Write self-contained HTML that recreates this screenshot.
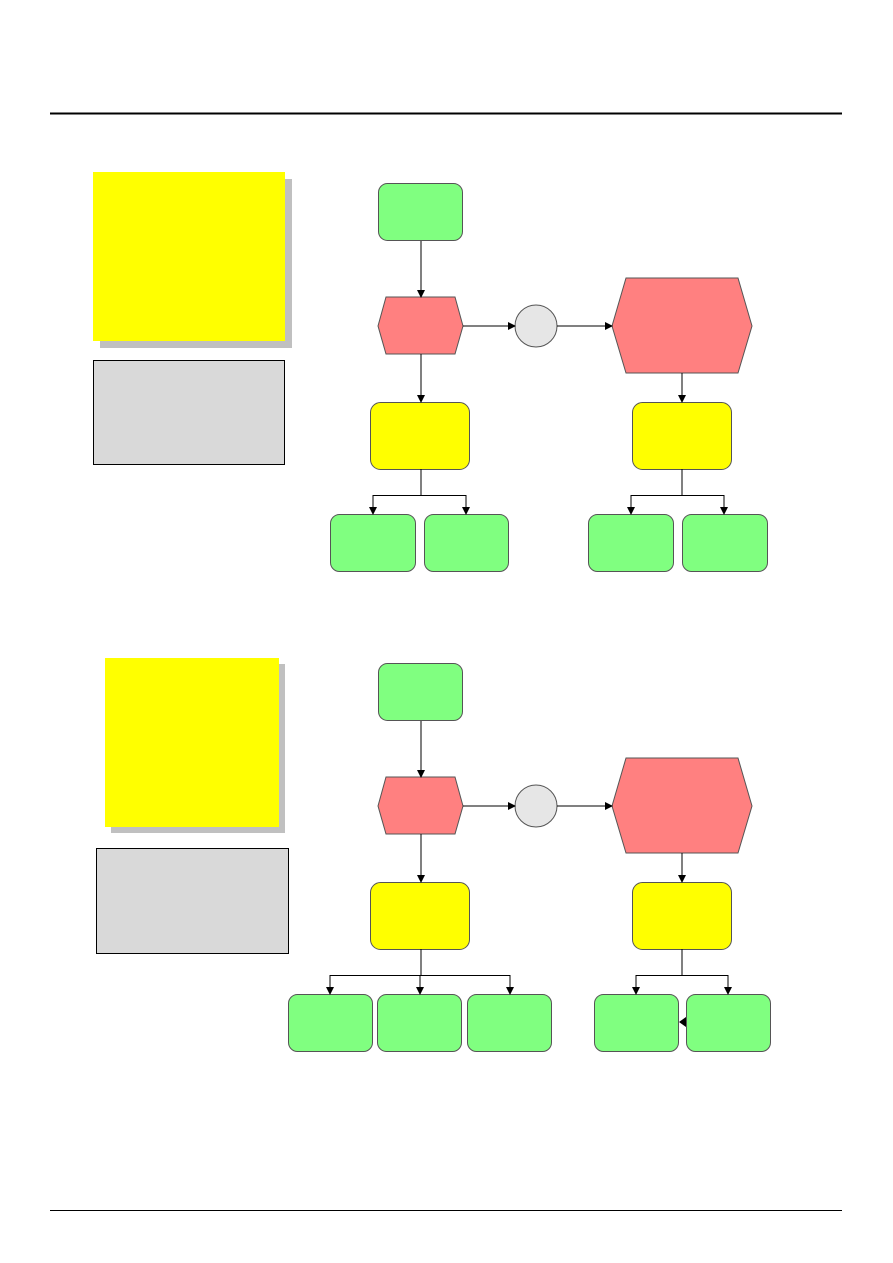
<!DOCTYPE html>
<html><head><meta charset="utf-8"><style>html,body{margin:0;padding:0;background:#fff}svg{display:block}</style></head>
<body>
<svg width="893" height="1263" viewBox="0 0 893 1263" xmlns="http://www.w3.org/2000/svg">
<defs>
<marker id="a" markerWidth="8" markerHeight="8" refX="7" refY="4" orient="auto" markerUnits="userSpaceOnUse"><path d="M0,0 L8,4 L0,8 Z" fill="#000"/></marker>
</defs>
<line x1="50" y1="113.5" x2="842" y2="113.5" stroke="#000" stroke-width="2"/>
<line x1="50" y1="1210.5" x2="842" y2="1210.5" stroke="#000" stroke-width="1"/>
<g stroke="#555" stroke-width="1">
<!-- Diagram 1 -->
<rect x="100" y="179" width="192" height="169" fill="#c0c0c0" stroke="none"/>
<rect x="93" y="172" width="192" height="169" fill="#ffff00" stroke="none"/>
<rect x="93.5" y="360.5" width="191" height="104" fill="#d9d9d9" stroke="#000"/>
<rect x="378.5" y="183.5" width="84" height="57" rx="9" fill="#80ff80"/>
<polygon points="378,326 386,297 455,297 463,326 455,354 386,354" fill="#ff8080"/>
<circle cx="536" cy="326" r="21" fill="#e6e6e6"/>
<polygon points="612,326 626,278 738,278 752,326 738,373 626,373" fill="#ff8080"/>
<rect x="370.5" y="402.5" width="99" height="67" rx="10" fill="#ffff00"/>
<rect x="632.5" y="402.5" width="99" height="67" rx="10" fill="#ffff00"/>
<rect x="330.5" y="514.5" width="85" height="57" rx="9" fill="#80ff80"/>
<rect x="424.5" y="514.5" width="84" height="57" rx="9" fill="#80ff80"/>
<rect x="588.5" y="514.5" width="85" height="57" rx="9" fill="#80ff80"/>
<rect x="682.5" y="514.5" width="85" height="57" rx="9" fill="#80ff80"/>
<!-- Diagram 2 -->
<rect x="111" y="664" width="174" height="169" fill="#c0c0c0" stroke="none"/>
<rect x="105" y="658" width="174" height="169" fill="#ffff00" stroke="none"/>
<rect x="96.5" y="848.5" width="192" height="105" fill="#d9d9d9" stroke="#000"/>
<rect x="378.5" y="663.5" width="84" height="57" rx="9" fill="#80ff80"/>
<polygon points="378,806 386,777 455,777 463,806 455,834 386,834" fill="#ff8080"/>
<circle cx="536" cy="806" r="21" fill="#e6e6e6"/>
<polygon points="612,806 626,758 738,758 752,806 738,853 626,853" fill="#ff8080"/>
<rect x="370.5" y="882.5" width="99" height="67" rx="10" fill="#ffff00"/>
<rect x="632.5" y="882.5" width="99" height="67" rx="10" fill="#ffff00"/>
<rect x="288.5" y="994.5" width="84" height="57" rx="9" fill="#80ff80"/>
<rect x="377.5" y="994.5" width="84" height="57" rx="9" fill="#80ff80"/>
<rect x="467.5" y="994.5" width="84" height="57" rx="9" fill="#80ff80"/>
<rect x="594.5" y="994.5" width="84" height="57" rx="9" fill="#80ff80"/>
<rect x="686.5" y="994.5" width="84" height="57" rx="9" fill="#80ff80"/>
</g>
<g stroke="#000" stroke-width="1" fill="none">
<line x1="421" y1="241" x2="421" y2="297" marker-end="url(#a)"/>
<line x1="463" y1="326" x2="515" y2="326" marker-end="url(#a)"/>
<line x1="557" y1="326" x2="612" y2="326" marker-end="url(#a)"/>
<line x1="421" y1="354" x2="421" y2="402" marker-end="url(#a)"/>
<line x1="682" y1="373" x2="682" y2="402" marker-end="url(#a)"/>
<polyline points="421,469 421,495"/>
<polyline points="373,514 373,495.5 466,495.5 466,514"/>
<line x1="373" y1="500" x2="373" y2="514" marker-end="url(#a)"/>
<line x1="466" y1="500" x2="466" y2="514" marker-end="url(#a)"/>
<polyline points="682,469 682,495"/>
<polyline points="631,514 631,495.5 724,495.5 724,514"/>
<line x1="631" y1="500" x2="631" y2="514" marker-end="url(#a)"/>
<line x1="724" y1="500" x2="724" y2="514" marker-end="url(#a)"/>

<line x1="421" y1="721" x2="421" y2="777" marker-end="url(#a)"/>
<line x1="463" y1="806" x2="515" y2="806" marker-end="url(#a)"/>
<line x1="557" y1="806" x2="612" y2="806" marker-end="url(#a)"/>
<line x1="421" y1="834" x2="421" y2="882" marker-end="url(#a)"/>
<line x1="682" y1="853" x2="682" y2="882" marker-end="url(#a)"/>
<polyline points="421,949 421,975"/>
<polyline points="330,994 330,975.5 510,975.5 510,994"/>
<line x1="330" y1="980" x2="330" y2="994" marker-end="url(#a)"/>
<line x1="420" y1="975" x2="420" y2="994" marker-end="url(#a)"/>
<line x1="510" y1="980" x2="510" y2="994" marker-end="url(#a)"/>
<polyline points="682,949 682,975"/>
<polyline points="636,994 636,975.5 728,975.5 728,994"/>
<line x1="636" y1="980" x2="636" y2="994" marker-end="url(#a)"/>
<line x1="728" y1="980" x2="728" y2="994" marker-end="url(#a)"/>
</g>
<path d="M686,1017 L679,1022 L686,1027 Z" fill="#000"/>
</svg>
</body></html>
